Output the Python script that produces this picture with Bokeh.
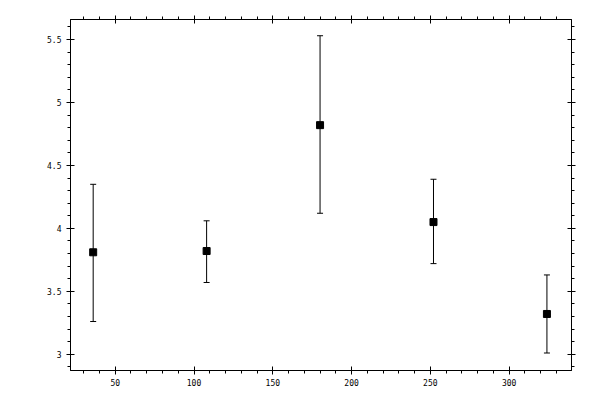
from bokeh.plotting import figure
from bokeh.models import (ColumnDataSource, Range1d, LinearAxis, SingleIntervalTicker,
                          NumeralTickFormatter, Whisker, TeeHead)
from bokeh.embed import file_html
from bokeh.resources import INLINE

# data
x_vals = [36, 108, 180, 252, 324]
y_vals = [3.81, 3.82, 4.82, 4.05, 3.32]
y_upper = [4.35, 4.06, 5.53, 4.39, 3.63]
y_lower = [3.26, 3.57, 4.12, 3.72, 3.01]

src = ColumnDataSource(dict(x=x_vals, y=y_vals, upper=y_upper, lower=y_lower))

p = figure(width=592, height=392, output_backend="svg", toolbar_location=None,
           x_range=Range1d(21.6, 339.6), y_range=Range1d(2.871, 5.659),
           x_axis_location=None, y_axis_location=None,
           min_border_left=70, min_border_right=21, min_border_top=19, min_border_bottom=22)
p.grid.visible = False
p.outline_line_color = "black"
p.outline_line_width = 1
p.background_fill_color = "white"
p.border_fill_color = "white"

FONT = "DejaVu Sans Mono"

def make_axis(kind, labels):
    if kind == "x":
        ticker = SingleIntervalTicker(interval=50, num_minor_ticks=5)
        fmt = NumeralTickFormatter(format="0")
    else:
        ticker = SingleIntervalTicker(interval=0.5, num_minor_ticks=5)
        fmt = NumeralTickFormatter(format="0.[0]")
    ax = LinearAxis(ticker=ticker, formatter=fmt)
    ax.axis_line_color = "black"
    ax.axis_line_width = 1
    ax.major_tick_line_color = "black"
    ax.minor_tick_line_color = "black"
    ax.major_tick_in = 4
    ax.major_tick_out = 4
    ax.minor_tick_in = 0
    ax.minor_tick_out = 3
    ax.major_label_text_font = FONT
    ax.major_label_text_font_size = "8px"
    if labels:
        ax.major_label_text_color = "black"
        ax.major_label_standoff = 4 if kind == "x" else 5
    else:
        ax.major_label_text_color = None
        ax.major_label_standoff = 0
    return ax

p.add_layout(make_axis("x", True), "below")
p.add_layout(make_axis("y", True), "left")
p.add_layout(make_axis("x", False), "above")
p.add_layout(make_axis("y", False), "right")

w = Whisker(source=src, base="x", upper="upper", lower="lower",
            line_color="black", line_width=1,
            upper_head=TeeHead(size=6, line_color="black", line_width=1),
            lower_head=TeeHead(size=6, line_color="black", line_width=1))
p.add_layout(w)

p.scatter("x", "y", source=src, marker="square", size=7,
          fill_color="black", line_color="black")

open("out.html", "w").write(file_html(p, INLINE))
